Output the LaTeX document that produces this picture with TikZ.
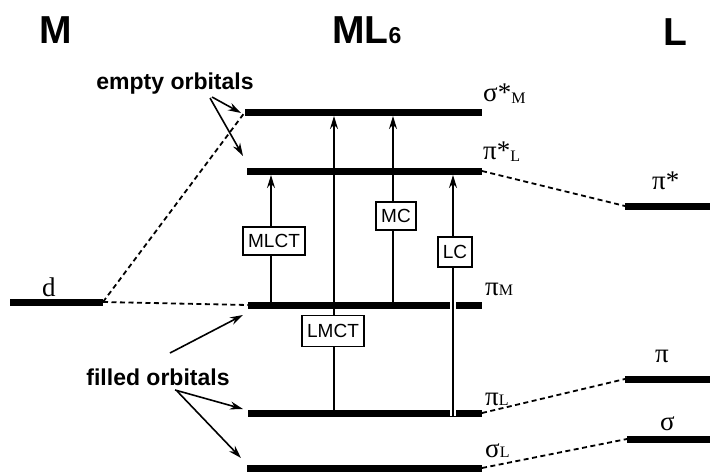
\documentclass[tikz,border=0pt]{standalone}
\usepackage{fontspec}
\setmainfont{Liberation Serif}
\setsansfont{Liberation Sans}
\usetikzlibrary{arrows.meta}
\newcommand\orbsub[1]{{\fontsize{16}{16}\selectfont #1}}
\begin{document}
\begin{tikzpicture}[x=1pt,y=-1pt,
  lvl/.style={line width=7pt},
  dsh/.style={line width=1.8pt, dash pattern=on 5pt off 3.5pt},
  trans/.style={line width=1.5pt},
  tarr/.style={trans,-{Stealth[length=13pt,width=8pt]}},
  pointer/.style={line width=1.6pt,-{Stealth[length=13pt,width=8pt]}},
  tbox/.style={draw,fill=white,line width=1.5pt,font=\fontsize{19}{19}\sffamily,inner xsep=5pt,inner ysep=0pt,minimum height=28pt},
  title/.style={font=\fontsize{39}{39}\sffamily\bfseries,inner sep=0pt},
  note/.style={font=\fontsize{23}{23}\sffamily\bfseries,inner sep=0pt},
  olab/.style={font=\fontsize{27}{27}\selectfont,anchor=base west,inner sep=0pt},
]
\useasboundingbox (0,0) rectangle (710,472);
% titles
\node[title,anchor=base] (tM) at (56,43) {M};
\node[title,anchor=base west] (tML) at (332,43) {ML{\fontsize{23}{23}\selectfont 6}};
\node[title,anchor=base] (tL) at (675,45) {L};
% level end points
\coordinate (sMl) at (245,112);  \coordinate (sMr) at (482,112);
\coordinate (pLsl) at (247,171); \coordinate (pLsr) at (482,171);
\coordinate (pMl) at (248,305);  \coordinate (pMr) at (482,305);
\coordinate (pLl) at (248,413);  \coordinate (pLr) at (482,413);
\coordinate (sLl) at (247,468);  \coordinate (sLr) at (482,468);
\coordinate (dl) at (10,302);    \coordinate (dr) at (103,302);
\coordinate (Lpsl) at (625,206); \coordinate (Lpsr) at (710,206);
\coordinate (Lpl) at (625,379);  \coordinate (Lpr) at (710,379);
\coordinate (Lsl) at (627,439);  \coordinate (Lsr) at (710,439);
% levels
\foreach \a/\b in {sMl/sMr,pLsl/pLsr,pMl/pMr,pLl/pLr,sLl/sLr,dl/dr,Lpsl/Lpsr,Lpl/Lpr,Lsl/Lsr}
  \draw[lvl] (\a) -- (\b);
% correlation lines
\draw[dsh] (dr) -- (sMl);
\draw[dsh] (dr) -- (pMl);
\draw[dsh] (pLsr) -- (Lpsl);
\draw[dsh] (pLr) -- (Lpl);
\draw[dsh] (sLr) -- (Lsl);
% orbital labels
\node[olab] (lsM) at (483,101) {σ*\raisebox{-2pt}{\orbsub{M}}};
\node[olab] (lpLs) at (483,159) {π*\raisebox{-2pt}{\orbsub{L}}};
\node[olab] (lpM) at (485,295) {π\orbsub{M}};
\node[olab] (lpL) at (485,405) {π\orbsub{L}};
\node[olab] (lsL) at (485,457) {σ\orbsub{L}};
\node[olab] (ld) at (42,296) {d};
\node[olab] (lLps) at (652,189) {π*};
\node[olab] (lLp) at (655,362) {π};
\node[olab] (lLs) at (660,430) {σ};
% transitions
\coordinate (mlctB) at (271,302); \coordinate (mlctT) at (271,175);
\coordinate (lmctB) at (334,410); \coordinate (lmctT) at (334,116);
\coordinate (mcB) at (393,302);   \coordinate (mcT) at (393,116);
\coordinate (lcB) at (453,416);   \coordinate (lcT) at (453,175);
\coordinate (lcG) at (453,280);
\draw[white,line width=6pt] (lcB) -- (lcG);
\draw[tarr] (mlctB) -- (mlctT);
\draw[tarr] (lmctB) -- (lmctT);
\draw[tarr] (mcB) -- (mcT);
\draw[tarr] (lcB) -- (lcT);
\node[tbox] (mlct) at (274,241) {MLCT};
\node[tbox,minimum height=31pt] (lmct) at (333,331) {LMCT};
\node[tbox] (mc) at (396,216) {MC};
\node[tbox,minimum height=30pt] (lc) at (455,252) {LC};
% annotations
\node[note,anchor=base] (empty) at (175,89) {empty orbitals};
\node[note,anchor=base] (filled) at (158,385) {filled orbitals};
\coordinate (e1) at (212,97);  \coordinate (e1t) at (241,113);
\coordinate (e2) at (210,98);  \coordinate (e2t) at (243,156);
\coordinate (f1) at (170,353); \coordinate (f1t) at (243,315);
\coordinate (f2) at (175,390); \coordinate (f2t) at (243,409);
\coordinate (f3) at (177,391); \coordinate (f3t) at (241,458);
\draw[pointer] (e1) -- (e1t);
\draw[pointer] (e2) -- (e2t);
\draw[pointer] (f1) -- (f1t);
\draw[pointer] (f2) -- (f2t);
\draw[pointer] (f3) -- (f3t);
\end{tikzpicture}
\end{document}
